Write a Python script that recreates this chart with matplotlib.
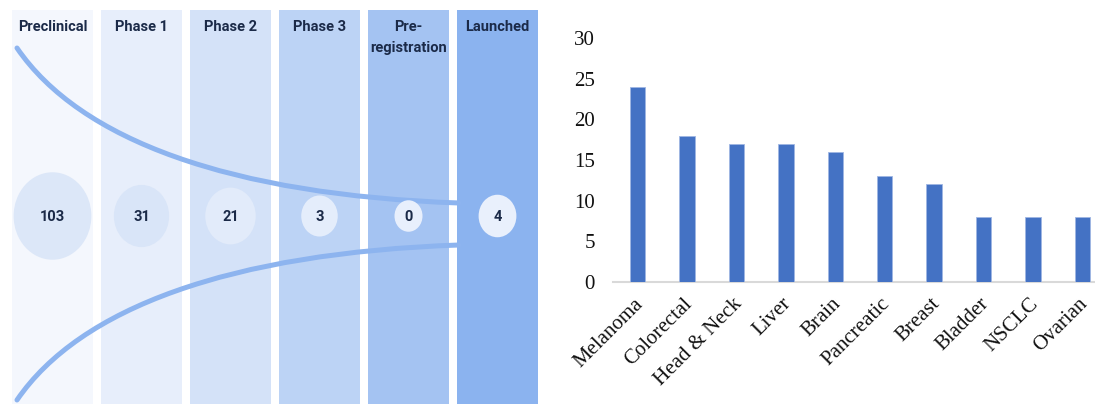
import numpy as np
import matplotlib.pyplot as plt
import matplotlib.transforms as mtransforms
from matplotlib.path import Path
from matplotlib.patches import Ellipse, PathPatch

# pipeline data
stages = ["Preclinical", "Phase 1", "Phase 2", "Phase 3", "Pre-\nregistration", "Launched"]
counts = [103, 31, 21, 3, 0, 4]

# bar chart data
cancers = ["Melanoma", "Colorectal", "Head & Neck", "Liver", "Brain",
           "Pancreatic", "Breast", "Bladder", "NSCLC", "Ovarian"]
trials = [24, 18, 17, 17, 16, 13, 12, 8, 8, 8]

col_colors = ["#f4f7fd", "#e7eefb", "#d4e2f8", "#bcd3f5", "#a4c3f2", "#8bb3ef"]
circ_colors = ["#dce7f8", "#d9e5f8", "#e2ebfa", "#e4edfb", "#e8effc", "#e9f0fc"]
txt_col = "#1b2a48"
sans = ["Roboto", "DejaVu Sans"]

fig = plt.figure(figsize=(10.95, 4.04), dpi=100)

# ---- left: pipeline infographic (pixel coords)
ax = fig.add_axes([0, 0, 540 / 1095, 1])
ax.set_xlim(0, 540)
ax.set_ylim(404, 0)
ax.axis("off")

pitch, colw, x0 = 89, 81, 12
for i, st in enumerate(stages):
    left = x0 + pitch * i
    ax.add_patch(plt.Rectangle((left, 10), colw, 400, color=col_colors[i], zorder=1, lw=0))
    cx = left + colw / 2
    ax.text(cx, 20, st, ha="center", va="top", fontsize=10.5, fontweight="bold",
            family=sans, color=txt_col, linespacing=1.6, zorder=5)
    r = 14 + 2.45 * np.sqrt(counts[i])
    ax.add_patch(Ellipse((cx, 216), 2 * r, 2.25 * r, color=circ_colors[i], zorder=3, lw=0))
    ax.text(cx, 217, str(counts[i]), ha="center", va="center", fontsize=10.5,
            fontweight="bold", family=sans, color=txt_col, zorder=5)

# funnel curves
codes = [Path.MOVETO, Path.CURVE4, Path.CURVE4, Path.CURVE4]
top = [(17, 48), (80, 140), (230, 195), (459, 203)]
bot = [(17, 400), (80, 308), (230, 253), (459, 245)]
for pts in (top, bot):
    ax.add_patch(PathPatch(Path(pts, codes), fill=False, edgecolor="#8db4ef",
                           lw=3.6, capstyle="round", zorder=2))

# ---- right: bar chart
ax2 = fig.add_axes([613 / 1095, 122 / 404, (1107 - 613) / 1095, 244 / 404])
x = np.arange(len(cancers))
ax2.bar(x, trials, width=0.31, color="#4472c4", edgecolor="#9fb6e3", linewidth=0.6, zorder=3)
ax2.set_xlim(-0.5, 9.5)
ax2.set_ylim(0, 30)
ax2.set_yticks(range(0, 31, 5))
for s in ["top", "right", "left"]:
    ax2.spines[s].set_visible(False)
ax2.spines["bottom"].set_color("#d9d9d9")
ax2.spines["bottom"].set_linewidth(1.5)
ax2.tick_params(length=0, labelsize=15)
ax2.tick_params(axis="y", pad=13)
ax2.tick_params(axis="x", pad=9)
ax2.set_xticks(x)
ax2.set_xticklabels(cancers, rotation=45, ha="right", va="top", rotation_mode="anchor")
shift = mtransforms.ScaledTranslation(-4 / 100, 0, fig.dpi_scale_trans)
for lab in ax2.get_xticklabels():
    lab.set_transform(lab.get_transform() + shift)
for lab in ax2.get_xticklabels() + ax2.get_yticklabels():
    lab.set_family(["Liberation Serif", "DejaVu Serif"])
    lab.set_color("#111111")

fig.savefig("out.png", dpi=100)
